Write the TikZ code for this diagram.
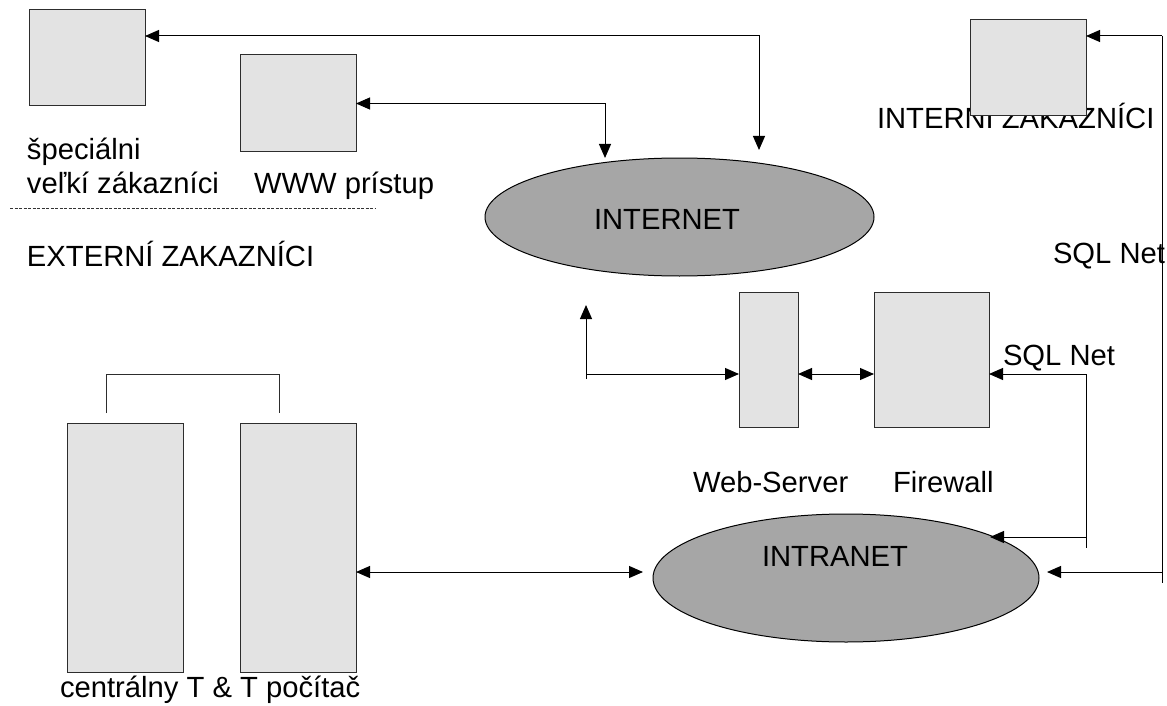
\documentclass[tikz,border=0pt]{standalone}
\usepackage{fontspec}
\setmainfont{Liberation Sans}
\usetikzlibrary{shapes.geometric,arrows.meta}
\definecolor{boxfill}{RGB}{227,227,227}
\definecolor{ellfill}{RGB}{166,166,166}
\definecolor{boxline}{RGB}{45,45,45}
\begin{document}
\begin{tikzpicture}[x=1pt,y=-1pt,
  box/.style={rectangle, draw=boxline, fill=boxfill, line width=1pt, inner sep=0pt, outer sep=0pt},
  net/.style={ellipse, draw=black, fill=ellfill, line width=1pt, inner sep=0pt, outer sep=0pt},
  lbl/.style={anchor=base west, inner sep=0pt, outer sep=0pt, font=\fontsize{29.2}{34}\selectfont},
  conn/.style={line width=1pt, draw=black},
  onearrow/.style={-{Triangle[length=14pt,width=12pt]}},
  twoarrow/.style={{Triangle[length=14pt,width=12pt]}-{Triangle[length=14pt,width=12pt]}}]
\useasboundingbox (0,0) rectangle (1167,706);

% texts drawn under boxes
\node[lbl] (interniT) at (877,129) {INTERNÍ ZAKAZNÍCI};

% boxes
\node[box, minimum width=116pt, minimum height=96pt] (spec) at (87,58) {};
\node[box, minimum width=116pt, minimum height=97pt] (www) at (298,103.5) {};
\node[box, minimum width=116pt, minimum height=96pt] (interni) at (1028,68) {};
\node[box, minimum width=59pt, minimum height=135pt] (web) at (768.5,359.5) {};
\node[box, minimum width=115pt, minimum height=135pt] (fw) at (931.5,359.5) {};
\node[box, minimum width=116pt, minimum height=249pt] (c1) at (125,547.5) {};
\node[box, minimum width=116pt, minimum height=249pt] (c2) at (298,547.5) {};

% networks
\node[net, minimum width=389pt, minimum height=118pt] (inet) at (679.5,217) {};
\node[net, minimum width=386pt, minimum height=128pt] (intra) at (846,578) {};

% labels
\node[lbl] (specT1) at (27,159) {špeciálni};
\node[lbl] (specT2) at (27,193) {veľkí zákazníci};
\node[lbl] (wwwT) at (254,193) {WWW prístup};
\node[lbl] (extT) at (27,266) {EXTERNÍ ZAKAZNÍCI};
\node[lbl] (inetT) at (594,229) {INTERNET};
\node[lbl] (sqlA) at (1053,263) {SQL Net};
\node[lbl] (sqlB) at (1003,365) {SQL Net};
\node[lbl] (webT) at (693,492) {Web-Server};
\node[lbl] (fwT) at (893,492) {Firewall};
\node[lbl] (intraT) at (762,566) {INTRANET};
\node[lbl] (centT) at (60,697) {centrálny T \& T počítač};

% coordinates for free ends and corners
\coordinate (yTop) at (0,36);
\coordinate (inetTipA) at (759,150);
\coordinate (inetTipB) at (605,158);
\coordinate (rTop) at (1162,36);
\coordinate (rBot) at (1162,583);
\coordinate (intraTipR) at (1047,572);
\coordinate (fTop) at (1086,374);
\coordinate (fBot) at (1086,548);
\coordinate (intraTipF) at (990,537);
\coordinate (wCorner) at (586,374);
\coordinate (wLow) at (586,379);
\coordinate (upTip) at (586,305);
\coordinate (intraTipL) at (643,572);
\coordinate (bL) at (106,413);
\coordinate (bR) at (279,413);
\coordinate (bTop) at (0,374);
\coordinate (dA) at (10,208);
\coordinate (dB) at (376,208);

% connectors
\draw[conn, twoarrow] (spec.east |- yTop) -| (inetTipA);
\draw[conn, twoarrow] (www.east) -| (inetTipB);

\draw[conn] (rTop) -- (rBot);
\draw[conn, onearrow] (rTop) -- (interni.east |- rTop);
\draw[conn, onearrow] (rTop |- intraTipR) -- (intraTipR);

\draw[conn] (fTop) -- (fBot);
\draw[conn, onearrow] (fTop) -- (fw.east |- fTop);
\draw[conn, onearrow] (fTop |- intraTipF) -- (intraTipF);

\draw[conn, onearrow] (wLow) -- (upTip);
\draw[conn, onearrow] (wCorner) -- (web.west |- wCorner);
\draw[conn, twoarrow] (web.east |- wCorner) -- (fw.west |- wCorner);

\draw[conn, twoarrow] (c2.east |- intraTipL) -- (intraTipL);

\draw[line width=1pt, draw=boxline] (bL) -- (bL |- bTop) -- (bR |- bTop) -- (bR);

\draw[line width=0.8pt, draw=black!80, dash pattern=on 3pt off 1.5pt] (dA) -- (dB);
\end{tikzpicture}
\end{document}
